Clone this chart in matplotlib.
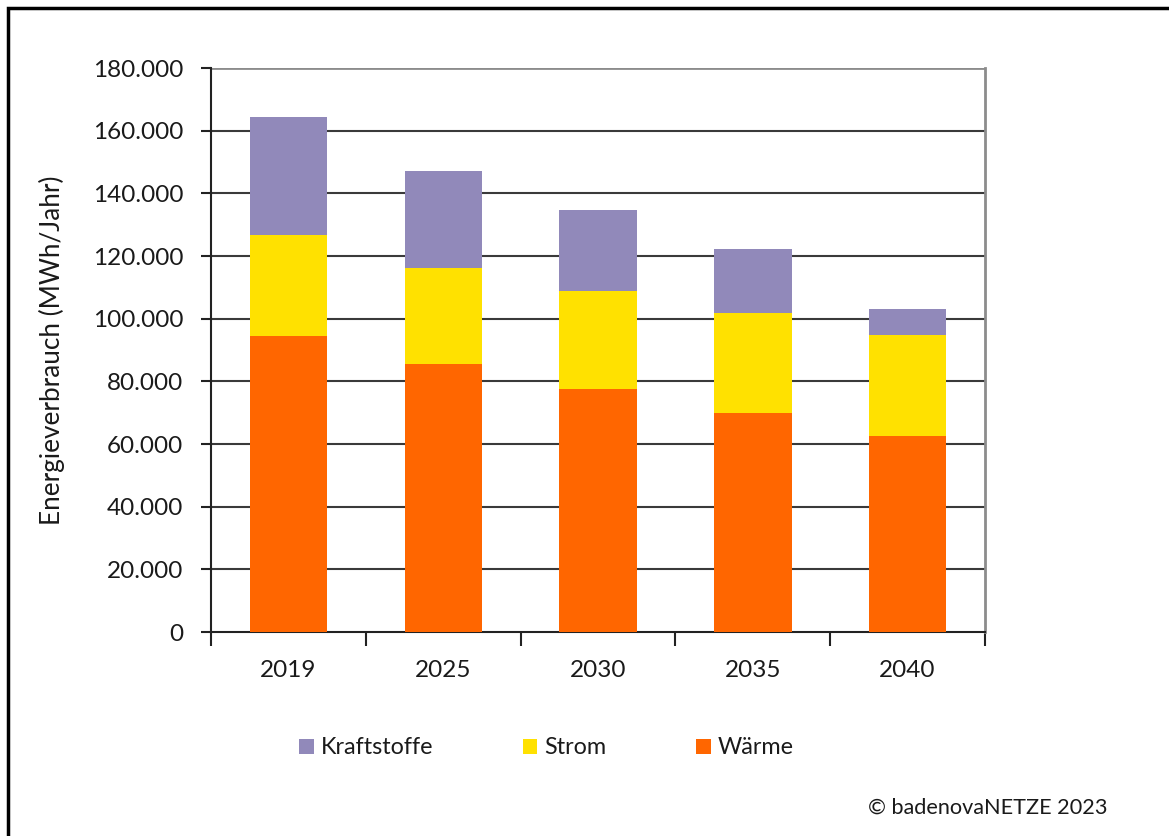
import matplotlib.pyplot as plt
from matplotlib.patches import Rectangle
from matplotlib.ticker import FuncFormatter, MultipleLocator
import numpy as np

plt.rcParams['font.family'] = ['Lato', 'DejaVu Sans']

jahre = ['2019', '2025', '2030', '2035', '2040']
waerme = [94500, 85400, 77700, 69900, 62600]
strom = [32200, 30700, 31000, 31900, 32200]
kraftstoffe = [37700, 31000, 26100, 20400, 8300]

farben = {'Wärme': '#FF6600', 'Strom': '#FFE100', 'Kraftstoffe': '#9189BA'}

fig = plt.figure(figsize=(11.69, 8.36), dpi=100)
ax = fig.add_axes([0.1805, 0.2440, 0.6621, 0.6746])

x = np.arange(len(jahre))
b1 = ax.bar(x, waerme, width=0.5, color=farben['Wärme'], zorder=3)
unten = np.array(waerme)
b2 = ax.bar(x, strom, width=0.5, bottom=unten, color=farben['Strom'], zorder=3)
unten = unten + np.array(strom)
b3 = ax.bar(x, kraftstoffe, width=0.5, bottom=unten, color=farben['Kraftstoffe'], zorder=3)

ax.set_xlim(-0.5, len(jahre) - 0.5)
ax.set_ylim(0, 180000)
ax.yaxis.set_major_locator(MultipleLocator(20000))
ax.yaxis.set_major_formatter(FuncFormatter(lambda v, p: f'{int(v):,}'.replace(',', '.')))

# Jahreszahlen mittig, Striche an den Kategoriegrenzen
ax.set_xticks(x)
ax.set_xticklabels(jahre)
ax.set_xticks(np.arange(-0.5, len(jahre)), minor=True)
ax.tick_params(axis='x', which='major', length=0, pad=20, labelsize=17.5, labelcolor='#1a1a1a')
ax.tick_params(axis='x', which='minor', length=10, width=1.5, direction='out', color='#222222')
ax.tick_params(axis='y', length=7, width=1.5, direction='out', color='#222222',
               pad=13, labelsize=17.5, labelcolor='#1a1a1a')

for v in range(20000, 180000, 20000):
    ax.axhline(v, color='#3a3a3a', lw=1.5, zorder=1)
ax.axhline(180000, color='#8c8c8c', lw=2, zorder=1)

ax.spines['top'].set_visible(False)
ax.spines['right'].set_color('#8c8c8c')
ax.spines['right'].set_linewidth(2)
ax.spines['left'].set_color('#222222')
ax.spines['left'].set_linewidth(1.5)
ax.spines['bottom'].set_color('#222222')
ax.spines['bottom'].set_linewidth(1.5)

ax.set_ylabel('Energieverbrauch (MWh/Jahr)', fontsize=18.8, color='#1a1a1a', labelpad=20)

fig.legend([b3, b2, b1], ['Kraftstoffe', 'Strom', 'Wärme'], loc='center left',
           bbox_to_anchor=(0.238, 0.1055), ncol=3, frameon=False, fontsize=16.8,
           handlelength=0.62, handleheight=0.62, handletextpad=0.3, columnspacing=3.85,
           labelcolor='#1a1a1a')

fig.text(0.7425, 0.0335, '© badenovaNETZE 2023', fontsize=15.6, color='#1a1a1a',
         va='center', ha='left')

# Rahmen oben und links
fig.patches.append(Rectangle((8 / 1169, -0.1), 1.2, 1.1 - 8 / 836, transform=fig.transFigure,
                             fill=False, edgecolor='black', lw=2.5))

fig.savefig('out.png', dpi=100)
